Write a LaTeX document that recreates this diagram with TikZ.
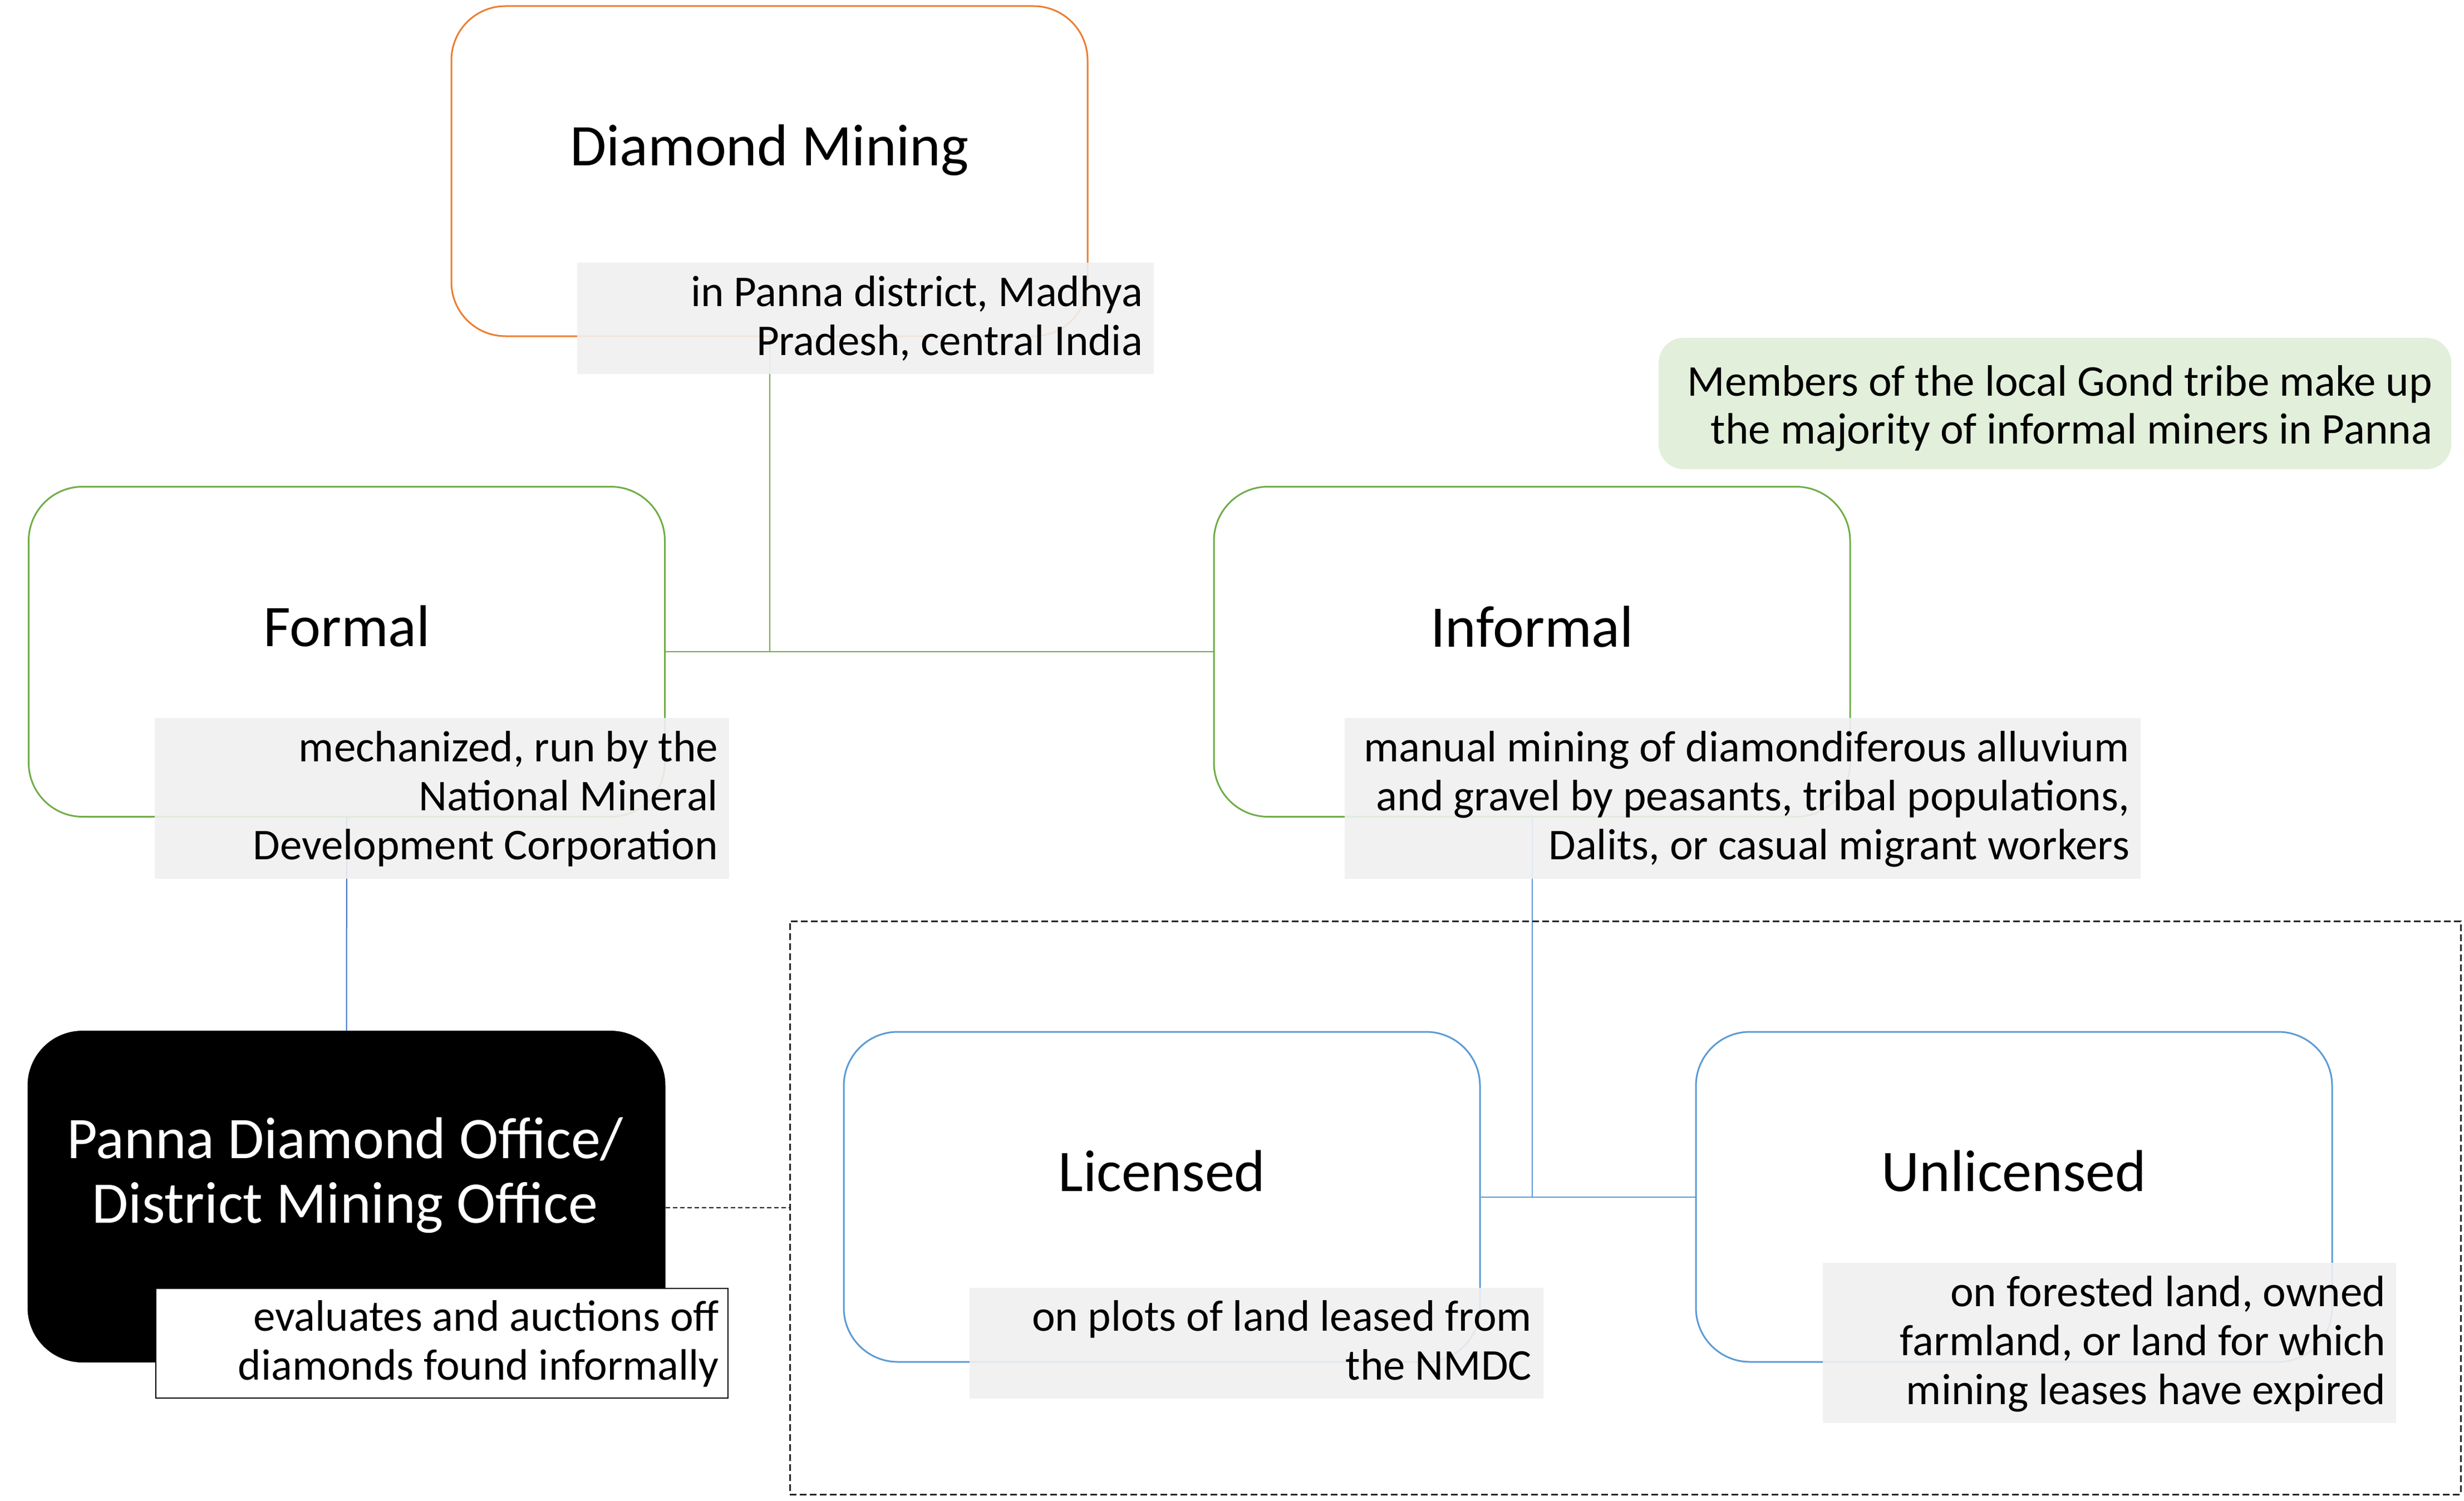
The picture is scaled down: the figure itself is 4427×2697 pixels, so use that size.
\documentclass[tikz,border=0pt]{standalone}
\usepackage{fontspec}
\setmainfont{Carlito}
\usetikzlibrary{calc}
\definecolor{orng}{HTML}{ED7D31}
\definecolor{grn}{HTML}{70AD47}
\definecolor{dblue}{HTML}{4472C4}
\definecolor{lblue}{HTML}{5B9BD5}
\definecolor{subgray}{HTML}{F0F0F0}
\definecolor{notegrn}{HTML}{E2EFDA}
\newcommand\Ls{\rule[-22pt]{0pt}{88pt}}
\newcommand\Ts{\rule[-29pt]{0pt}{116pt}}
\newcommand\Ns{\rule[-13pt]{0pt}{86pt}}
\pgfdeclarelayer{bg}
\pgfsetlayers{bg,main}
\begin{document}
\begin{tikzpicture}[x=1pt,y=-1pt,
  box/.style={rectangle, rounded corners=97pt, minimum width=1143pt, minimum height=593pt, line width=3pt, fill=white, draw=#1},
  subbox/.style={rectangle, fill=subgray, fill opacity=0.9, inner sep=0pt},
  subtxt/.style={anchor=east, align=right, inner sep=0pt, font=\fontsize{79}{88}\selectfont},
  ttl/.style={anchor=base, inner sep=0pt, font=\fontsize{106}{116}\selectfont},
  conn/.style={line width=2pt, draw=#1},
  grpbox/.style={rectangle, draw=black!85, line width=3pt, dash pattern=on 12pt off 6pt, inner sep=0pt, minimum width=3002pt, minimum height=1030pt}
]
\useasboundingbox (0,0) rectangle (4427,2697);

% group frame
\node[grpbox] (grp) at (2920,2170) {};

% main boxes
\node[box=orng] (dm) at (1382.5,307.5) {};
\node[box=grn] (fo) at (623,1171) {};
\node[box=grn] (inf) at (2752.5,1171) {};
\node[box=black, fill=black] (pdo) at (622.5,2150) {};
\node[box=lblue] (lic) at (2087.5,2150.5) {};
\node[box=lblue] (unl) at (3618.5,2150.5) {};

% titles
\node[ttl] (dmT) at (1382.5,298) {Diamond Mining};
\node[ttl] (foT) at (623,1161) {Formal};
\node[ttl] (infT) at (2752.5,1162) {Informal};
\node[ttl] (licT) at (2087.5,2140) {Licensed};
\node[ttl] (unlT) at (3618.5,2140) {Unlicensed};
\node[anchor=center, align=center, inner sep=0pt, text=white, font=\fontsize{106}{116}\selectfont] (pdoT) at (620,2110) {\Ts Panna Diamond Office/\\\Ts District Mining Office};

% sub boxes
\node[subbox, minimum width=1036pt, minimum height=200pt] (dmS) at (1555,572) {};
\node[subbox, minimum width=1032pt, minimum height=289pt] (foS) at (794,1434.5) {};
\node[subbox, minimum width=1430pt, minimum height=289pt] (infS) at (3131,1434.5) {};
\node[rectangle, fill=white, draw=black, line width=2.5pt, inner sep=0pt, minimum width=1028pt, minimum height=197pt] (pdoS) at (794,2413.5) {};
\node[subbox, minimum width=1031pt, minimum height=199pt] (licS) at (2257.5,2413.5) {};
\node[subbox, minimum width=1030pt, minimum height=288pt] (unlS) at (3790,2413) {};

\node[subtxt] (dmSt) at ([xshift=-20pt]dmS.east) {\Ls in Panna district, Madhya\\\Ls Pradesh, central India};
\node[subtxt] (foSt) at ([xshift=-20pt]foS.east) {\Ls mechanized, run by the\\\Ls National Mineral\\\Ls Development Corporation};
\node[subtxt] (infSt) at ([xshift=-20pt]infS.east) {\Ls manual mining of diamondiferous alluvium\\\Ls and gravel by peasants, tribal populations,\\\Ls Dalits, or casual migrant workers};
\node[subtxt] (pdoSt) at ([xshift=-17pt]pdoS.east) {\Ls evaluates and auctions off\\\Ls diamonds found informally};
\node[subtxt] (licSt) at ([xshift=-21pt]licS.east) {\Ls on plots of land leased from\\\Ls the NMDC};
\node[subtxt] (unlSt) at ([xshift=-19pt]unlS.east) {\Ls on forested land, owned\\\Ls farmland, or land for which\\\Ls mining leases have expired};

% note
\node[rectangle, rounded corners=45pt, fill=notegrn, inner sep=0pt, minimum width=1424pt, minimum height=236pt] (note) at (3692,725) {};
\node[subtxt, font=\fontsize{79}{86}\selectfont] (noteT) at ([xshift=-34pt]note.east) {\Ns Members of the local Gond tribe make up\\\Ns the majority of informal miners in Panna};

% connectors
\begin{pgfonlayer}{bg}
\draw[conn=grn] (dm.south) -- (dm.center |- fo.east);
\draw[conn=grn] (fo.east) -- (inf.west);
\draw[conn=dblue] (fo.south) -- (pdo.north);
\draw[conn=lblue] (inf.south) -- (inf.south |- lic.east);
\draw[conn=lblue] (lic.east) -- (unl.west);
\draw[line width=2.5pt, draw=black, dash pattern=on 8pt off 5pt] (grp.west -| pdo.east) -- (grp.west);
\end{pgfonlayer}
\end{tikzpicture}
\end{document}
